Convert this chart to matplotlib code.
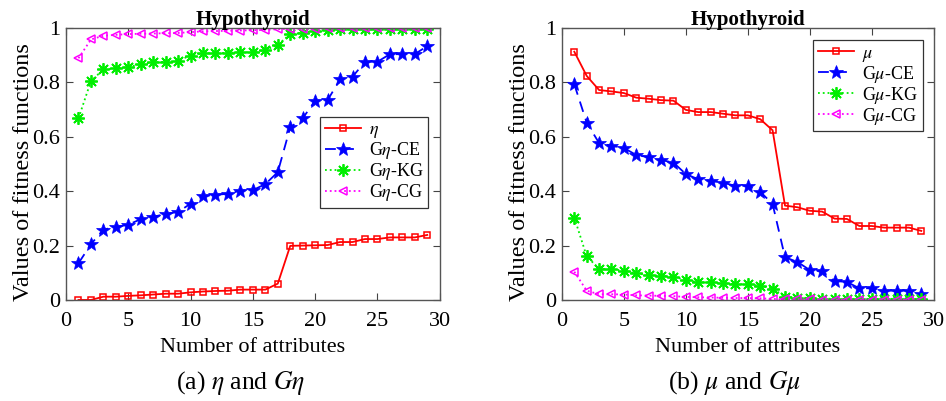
import numpy as np
import matplotlib
matplotlib.use("Agg")
import matplotlib.pyplot as plt

plt.rcParams['font.family'] = ['Liberation Serif', 'DejaVu Serif']
plt.rcParams['mathtext.fontset'] = 'stix'

attrs = np.arange(1, 30)

# (a) eta and G-eta
eta = [0.0, 0.0, 0.012, 0.012, 0.015, 0.017, 0.020, 0.023, 0.023, 0.028,
       0.031, 0.033, 0.034, 0.038, 0.038, 0.038, 0.060, 0.199, 0.200, 0.201,
       0.202, 0.213, 0.213, 0.224, 0.224, 0.230, 0.230, 0.230, 0.239]
geta_ce = [0.135, 0.205, 0.259, 0.268, 0.277, 0.297, 0.306, 0.316, 0.324, 0.354,
           0.382, 0.386, 0.391, 0.402, 0.404, 0.426, 0.470, 0.635, 0.668, 0.733,
           0.735, 0.811, 0.821, 0.876, 0.876, 0.904, 0.904, 0.904, 0.934]
geta_kg = [0.668, 0.805, 0.848, 0.852, 0.856, 0.868, 0.874, 0.876, 0.880, 0.899,
           0.907, 0.908, 0.909, 0.911, 0.911, 0.919, 0.938, 0.978, 0.983, 0.990,
           0.994, 0.995, 0.995, 0.996, 0.996, 0.996, 0.996, 0.996, 0.997]
geta_cg = [0.889, 0.958, 0.972, 0.975, 0.978, 0.979, 0.980, 0.981, 0.982, 0.985,
           0.988, 0.989, 0.990, 0.991, 0.992, 0.993, 0.996, 0.998, 0.998, 0.998,
           0.999, 0.999, 0.999, 0.999, 0.999, 0.999, 0.999, 0.999, 0.999]

# (b) mu and G-mu
mu = [0.913, 0.824, 0.772, 0.767, 0.761, 0.744, 0.740, 0.735, 0.733, 0.699,
      0.691, 0.691, 0.685, 0.679, 0.679, 0.665, 0.624, 0.347, 0.341, 0.328,
      0.325, 0.299, 0.298, 0.272, 0.272, 0.266, 0.266, 0.266, 0.254]
gmu_ce = [0.793, 0.652, 0.577, 0.567, 0.559, 0.533, 0.525, 0.515, 0.505, 0.463,
          0.444, 0.438, 0.431, 0.420, 0.420, 0.398, 0.353, 0.157, 0.140, 0.110,
          0.105, 0.070, 0.066, 0.043, 0.043, 0.034, 0.034, 0.034, 0.021]
gmu_kg = [0.303, 0.160, 0.115, 0.113, 0.108, 0.098, 0.091, 0.089, 0.085, 0.074,
          0.065, 0.065, 0.061, 0.058, 0.058, 0.052, 0.042, 0.012, 0.009, 0.007,
          0.005, 0.004, 0.004, 0.004, 0.004, 0.004, 0.004, 0.004, 0.003]
gmu_cg = [0.104, 0.034, 0.021, 0.021, 0.020, 0.017, 0.016, 0.015, 0.014, 0.011,
          0.010, 0.009, 0.008, 0.007, 0.007, 0.006, 0.004, 0.002, 0.002, 0.002,
          0.001, 0.001, 0.001, 0.001, 0.001, 0.001, 0.001, 0.001, 0.001]

STAR8 = (8, 2, 0)


def draw_panel(ax, series, labels, legend_anchor):
    styles = [
        dict(color='red', ls='-', marker='s', mfc='none', ms=5, mew=1.1),
        dict(color='blue', ls=(0, (6, 4)), marker='*', ms=10, mew=0.5),
        dict(color='#00ee00', ls=':', marker=STAR8, ms=9, mew=1.3),
        dict(color='magenta', ls=':', marker='<', mfc='none', ms=6, mew=1.1),
    ]
    for vals, lab, st in zip(series, labels, styles):
        ax.plot(attrs, vals, lw=1.3, label=lab, **st)
    ax.set_xlim(0, 30)
    ax.set_ylim(0, 1)
    ax.set_xticks([0, 5, 10, 15, 20, 25, 30])
    ax.set_yticks([0, 0.2, 0.4, 0.6, 0.8, 1])
    ax.set_yticklabels(['0', '0.2', '0.4', '0.6', '0.8', '1'])
    ax.tick_params(direction='in', top=True, right=True, labelsize=16,
                   length=5, color='#444444')
    ax.tick_params(axis='x', pad=9)
    ax.tick_params(axis='y', pad=4)
    for sp in ax.spines.values():
        sp.set_color('#555555')
        sp.set_linewidth(1.0)
    ax.set_xlabel('Number of attributes', fontsize=16, labelpad=5)
    ax.set_ylabel('Values of fitness functions', fontsize=17.5)
    ax.yaxis.set_label_coords(-0.085, 0.47)
    ax.set_title('Hypothyroid', fontsize=15, fontweight='bold', pad=2)
    leg = ax.legend(loc='upper right', bbox_to_anchor=legend_anchor,
                    borderaxespad=0, fontsize=13, fancybox=False,
                    edgecolor='#333333', framealpha=1, handlelength=2.0,
                    labelspacing=0.0, borderpad=0.25, handletextpad=0.45)
    leg.get_frame().set_linewidth(0.9)


fig = plt.figure(figsize=(9.46, 4.01), dpi=100)
ax1 = fig.add_axes([0.0698, 0.252, 0.395, 0.678])
ax2 = fig.add_axes([0.594, 0.252, 0.393, 0.678])

draw_panel(ax1, [eta, geta_ce, geta_kg, geta_cg],
           [r'$\eta$', r'G$\eta$-CE', r'G$\eta$-KG', r'G$\eta$-CG'],
           (0.97, 0.673))
draw_panel(ax2, [mu, gmu_ce, gmu_kg, gmu_cg],
           [r'$\mu$', r'G$\mu$-CE', r'G$\mu$-KG', r'G$\mu$-CG'],
           (0.97, 0.956))

fig.text(0.254, 0.045, r'(a) $\eta$ and $G\eta$', ha='center', va='center',
         fontsize=18.5)
fig.text(0.777, 0.045, r'(b) $\mu$ and $G\mu$', ha='center', va='center',
         fontsize=18.5)

fig.savefig('out.png', dpi=100)
